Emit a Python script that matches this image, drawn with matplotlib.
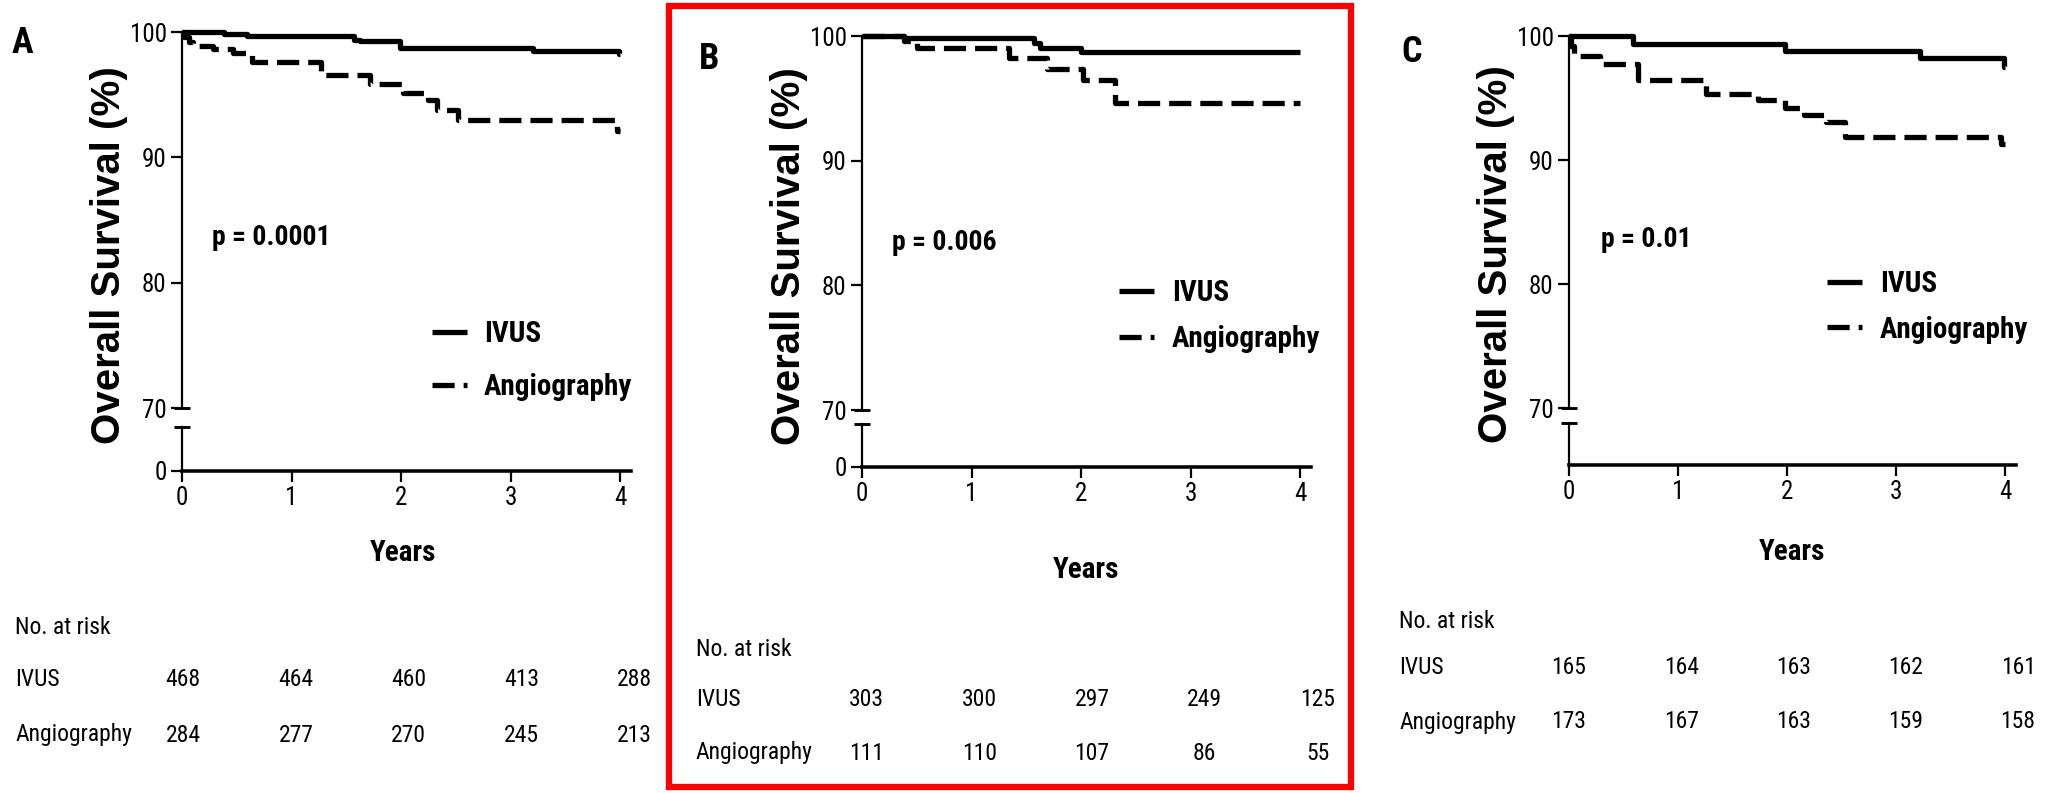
import matplotlib
matplotlib.use("Agg")
import matplotlib.pyplot as plt
from matplotlib.patches import Rectangle
import matplotlib.transforms as mtransforms
from matplotlib import font_manager as fm

# ---------------- data ----------------
panel_labels = ["A", "B", "C"]
p_values = ["p = 0.0001", "p = 0.006", "p = 0.01"]
groups = ["IVUS", "Angiography"]
years_ticks = [0, 1, 2, 3, 4]

# Panel A
ivus_t_A = [0, 0.38, 0.59, 1.57, 1.63, 1.99, 3.21, 3.99, 4.0]
ivus_s_A = [100, 99.87, 99.65, 99.4, 99.25, 98.74, 98.47, 98.25, 98.25]
angio_t_A = [0, 0.02, 0.06, 0.1, 0.28, 0.47, 0.64, 1.27, 1.72, 2.02, 2.25, 2.33, 2.52, 3.97, 4.0]
angio_s_A = [100, 99.6, 99.2, 98.9, 98.65, 98.3, 97.6, 96.6, 95.85, 95.1, 94.55, 93.8, 93.0, 92.1, 92.1]
risk_ivus_A = [468, 464, 460, 413, 288]
risk_angio_A = [284, 277, 270, 245, 213]

# Panel B
ivus_t_B = [0, 0.38, 1.57, 1.63, 2.0, 4.0]
ivus_s_B = [100, 99.8, 99.4, 99.07, 98.72, 98.72]
angio_t_B = [0, 0.38, 0.5, 1.34, 1.69, 2.02, 2.31, 4.0]
angio_s_B = [100, 99.6, 99.07, 98.27, 97.39, 96.45, 94.6, 94.6]
risk_ivus_B = [303, 300, 297, 249, 125]
risk_angio_B = [111, 110, 107, 86, 55]

# Panel C
ivus_t_C = [0, 0.585, 1.98, 3.22, 3.99, 4.0]
ivus_s_C = [100, 99.33, 98.8, 98.26, 97.5, 97.5]
angio_t_C = [0, 0.02, 0.05, 0.28, 0.63, 1.26, 1.73, 1.98, 2.16, 2.36, 2.53, 3.96, 4.0]
angio_s_C = [100, 99.2, 98.4, 97.72, 96.43, 95.36, 94.83, 94.2, 93.6, 93.08, 91.82, 91.3, 91.3]
risk_ivus_C = [165, 164, 163, 162, 161]
risk_angio_C = [173, 167, 163, 159, 158]


# ---------------- fonts ----------------
def pick(cands, need_bold=False, default="Liberation Sans"):
    for c in cands:
        fonts = [f for f in fm.fontManager.ttflist if f.name == c]
        if not fonts:
            continue
        if need_bold and not any(int(f.weight) >= 600 for f in fonts
                                 if str(f.weight).isdigit()):
            continue
        return c
    return default


NARROW_CANDS = ["Arial Narrow", "Liberation Sans Narrow", "Roboto Condensed",
                "Archivo Narrow", "PT Sans Narrow", "Sofia Sans Condensed"]
NARROW = [pick(NARROW_CANDS), "DejaVu Sans"]
NARROW_B = [pick(NARROW_CANDS, need_bold=True), "DejaVu Sans"]
SANS = ["Liberation Sans", "DejaVu Sans"]

# ---------------- layout ----------------
W, H = 2049, 793
fig = plt.figure(figsize=(W / 100, H / 100), dpi=100)
fig.patch.set_facecolor("white")


def fx(px):
    return px / W


def fy(py):
    return 1 - py / H


panels = [
    dict(x0=182, x4=620, y100=32, y70=408, ylow=427, y0=471, zero=True,
         letter=(22, 43), ylab_y=255, years=(403, 553),
         nar_x=15, nar_y=627, row_y=(680, 735), col_off=0.01,
         p_xy=(0.27, 83.6), leg_xy=(2.28, 73.8), leg_sp=0.85,
         it=ivus_t_A, is_=ivus_s_A, at=angio_t_A, as_=angio_s_A,
         ri=risk_ivus_A, ra=risk_angio_A),
    dict(x0=862, x4=1300, y100=36, y70=410, ylow=424, y0=467, zero=True,
         letter=(709, 59), ylab_y=256, years=(1086, 570),
         nar_x=696, nar_y=650, row_y=(700, 753), col_off=0.04,
         p_xy=(0.27, 83.4), leg_xy=(2.35, 77.55), leg_sp=0.62,
         it=ivus_t_B, is_=ivus_s_B, at=angio_t_B, as_=angio_s_B,
         ri=risk_ivus_B, ra=risk_angio_B),
    dict(x0=1569, x4=2005, y100=36, y70=408, ylow=423, y0=465, zero=False,
         letter=(1412, 52), ylab_y=254, years=(1792, 552),
         nar_x=1399, nar_y=622, row_y=(668, 722), col_off=0.0,
         p_xy=(0.29, 83.6), leg_xy=(2.37, 78.15), leg_sp=0.6,
         it=ivus_t_C, is_=ivus_s_C, at=angio_t_C, as_=angio_s_C,
         ri=risk_ivus_C, ra=risk_angio_C),
]

LW = 3.8
AXLW = 1.6
TICK_FS = 18
TAB_FS = 17

for i, P in enumerate(panels):
    xw = (P["x4"] - P["x0"]) / 4 * 4.1
    ax = fig.add_axes([fx(P["x0"]), fy(P["y70"]), xw / W, (P["y70"] - P["y100"]) / H])
    axb = fig.add_axes([fx(P["x0"]), fy(P["y0"]), xw / W, (P["y0"] - P["ylow"]) / H])

    for a in (ax, axb):
        a.set_xlim(0, 4.1)
        a.patch.set_alpha(0)
        for s in ("top", "right"):
            a.spines[s].set_visible(False)
        a.spines["left"].set_linewidth(AXLW)
        a.tick_params(axis="both", direction="out", length=8, width=AXLW, pad=3)

    # upper segment (70-100)
    ax.set_ylim(70, 100)
    ax.spines["bottom"].set_visible(False)
    ax.set_xticks([])
    ax.set_yticks([70, 80, 90, 100])
    ax.set_yticklabels(["70", "80", "90", "100"], family=NARROW, fontsize=TICK_FS)
    ax.plot([0], [70], marker="_", ms=12, mew=AXLW * 1.3, color="black", clip_on=False)

    # lower segment (axis break to 0)
    axb.set_ylim(0, 1)
    axb.spines["bottom"].set_linewidth(AXLW * 1.6)
    axb.set_xticks(years_ticks)
    axb.set_xticklabels([str(v) for v in years_ticks], family=NARROW, fontsize=TICK_FS)
    if P["zero"]:
        axb.set_yticks([0])
        axb.set_yticklabels(["0"], family=NARROW, fontsize=TICK_FS)
    else:
        axb.set_yticks([])
    axb.plot([0], [1], marker="_", ms=12, mew=AXLW * 1.3, color="black", clip_on=False)

    # Kaplan-Meier curves
    l1, = ax.step(P["it"], P["is_"], where="post", color="black", lw=LW,
                  solid_capstyle="butt", clip_on=False, label=groups[0])
    l2, = ax.step(P["at"], P["as_"], where="post", color="black", lw=LW,
                  linestyle=(0, (4.2, 1.7)), dash_capstyle="butt",
                  clip_on=False, label=groups[1])

    # p value
    ax.text(P["p_xy"][0], P["p_xy"][1], p_values[i], ha="left", va="center",
            fontsize=20, fontweight="bold", family=NARROW_B)

    # legend
    ax.legend(handles=[l1, l2], loc="center left",
              bbox_to_anchor=P["leg_xy"], bbox_transform=ax.transData,
              frameon=False, borderpad=0, borderaxespad=0,
              handlelength=1.2, handletextpad=0.6,
              labelspacing=P["leg_sp"],
              prop=dict(family=NARROW_B, size=21, weight="bold"))

    # y label
    fig.text(fx(P["x0"] - 73), fy(P["ylab_y"]), "Overall Survival (%)",
             rotation=90, ha="center", va="center", fontsize=29,
             fontweight="bold", family=SANS)

    # panel letter
    fig.text(fx(P["letter"][0]), fy(P["letter"][1]), panel_labels[i],
             ha="center", va="center", fontsize=26, fontweight="bold", family=NARROW_B)

    # x label
    fig.text(fx(P["years"][0]), fy(P["years"][1]), "Years", ha="center",
             va="center", fontsize=21, fontweight="bold", family=NARROW_B)

    # number-at-risk table
    tr = mtransforms.blended_transform_factory(axb.transData, fig.transFigure)
    fig.text(fx(P["nar_x"]), fy(P["nar_y"]), "No. at risk", ha="left",
             va="center", fontsize=TAB_FS, family=NARROW)
    for g, ry, vals in zip(groups, P["row_y"], (P["ri"], P["ra"])):
        fig.text(fx(P["nar_x"]), fy(ry), g, ha="left", va="center",
                 fontsize=TAB_FS, family=NARROW)
        for k, v in enumerate(vals):
            axb.text(k * 1.03 + P["col_off"], fy(ry), str(v), transform=tr,
                     ha="center", va="center", fontsize=TAB_FS, family=NARROW,
                     clip_on=False)

# red highlight frame around panel B
fig.patches.append(Rectangle((fx(669), fy(787)), (1351 - 669) / W, (787 - 6) / H,
                             transform=fig.transFigure, fill=False,
                             edgecolor="#ff0000", linewidth=4.5))

fig.savefig("out.png", dpi=100, facecolor="white")
